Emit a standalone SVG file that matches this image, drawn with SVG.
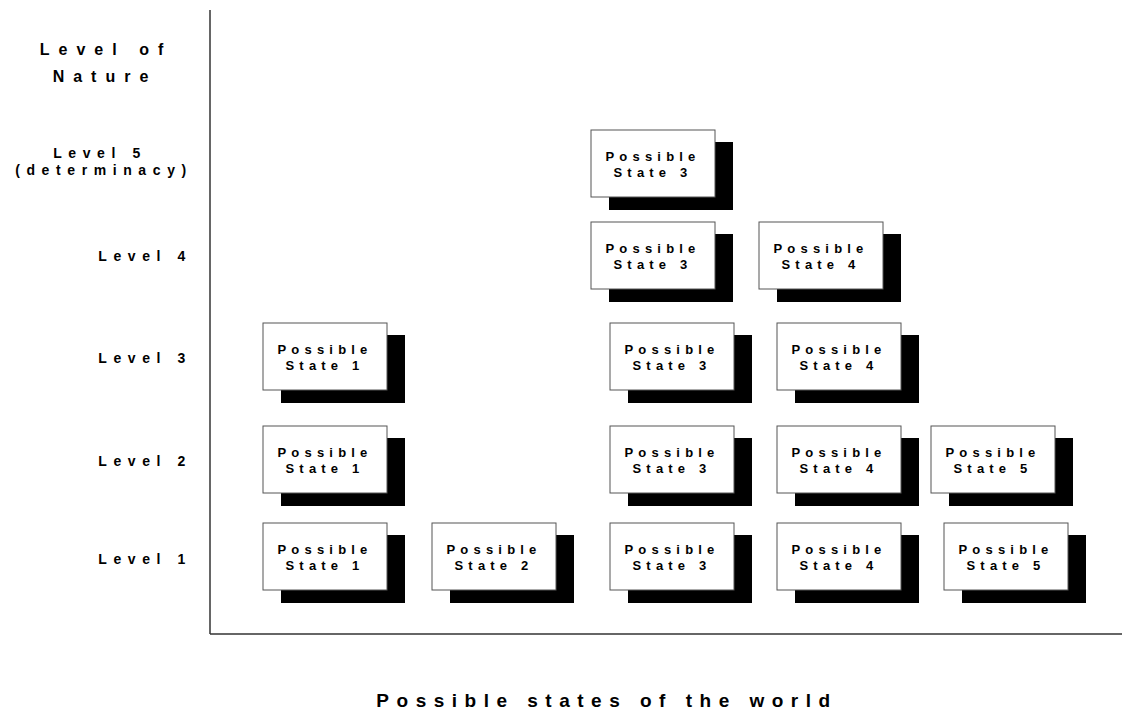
<svg xmlns="http://www.w3.org/2000/svg" width="1122" height="710" viewBox="0 0 1122 710">
<style>
.shadow{fill:#000}
.box{fill:#fff;stroke:#555;stroke-width:1}
.bt{font-family:"Liberation Sans",Arial,sans-serif;font-weight:bold;font-size:13px;letter-spacing:5.2px;text-anchor:middle;fill:#000}
.lab{font-family:"Liberation Sans",Arial,sans-serif;font-weight:bold;font-size:14px;letter-spacing:6.6px;fill:#000}
.big{font-family:"Liberation Sans",Arial,sans-serif;font-weight:bold;font-size:16px;letter-spacing:9px;text-anchor:middle;fill:#000}
.title{font-family:"Liberation Sans",Arial,sans-serif;font-weight:bold;font-size:19px;letter-spacing:7.5px;text-anchor:middle;fill:#000}
.axis{stroke:#333;stroke-width:1.5;fill:none}
</style>
<defs>
<g id="node">
<rect class="shadow" x="18" y="12" width="124" height="68"/>
<rect class="box" x="0" y="0" width="124" height="67"/>
<text class="bt" x="62" y="31">Possible</text>
</g>
</defs>
<g id="axes">
<line class="axis" x1="210" y1="10" x2="210" y2="634"/>
<line class="axis" x1="210" y1="634" x2="1122" y2="634"/>
</g>
<g id="labels">
<text class="big" x="106" y="55">Level of</text>
<text class="big" x="105" y="82">Nature</text>
<text class="lab" x="100" y="158" text-anchor="middle" letter-spacing="7.4">Level 5</text>
<text class="lab" x="104" y="175" text-anchor="middle" letter-spacing="6.9">(determinacy)</text>
<text class="lab" x="192" y="261" text-anchor="end">Level 4</text>
<text class="lab" x="192" y="363" text-anchor="end">Level 3</text>
<text class="lab" x="192" y="466" text-anchor="end">Level 2</text>
<text class="lab" x="192" y="564" text-anchor="end">Level 1</text>
<text class="title" x="607" y="707">Possible states of the world</text>
</g>
<g id="connectors"/>
<g id="l5s3" transform="translate(591,130)"><use href="#node"/><text class="bt" x="62" y="47">State 3</text></g>
<g id="l4s3" transform="translate(591,222)"><use href="#node"/><text class="bt" x="62" y="47">State 3</text></g>
<g id="l4s4" transform="translate(759,222)"><use href="#node"/><text class="bt" x="62" y="47">State 4</text></g>
<g id="l3s1" transform="translate(263,323)"><use href="#node"/><text class="bt" x="62" y="47">State 1</text></g>
<g id="l3s3" transform="translate(610,323)"><use href="#node"/><text class="bt" x="62" y="47">State 3</text></g>
<g id="l3s4" transform="translate(777,323)"><use href="#node"/><text class="bt" x="62" y="47">State 4</text></g>
<g id="l2s1" transform="translate(263,426)"><use href="#node"/><text class="bt" x="62" y="47">State 1</text></g>
<g id="l2s3" transform="translate(610,426)"><use href="#node"/><text class="bt" x="62" y="47">State 3</text></g>
<g id="l2s4" transform="translate(777,426)"><use href="#node"/><text class="bt" x="62" y="47">State 4</text></g>
<g id="l2s5" transform="translate(931,426)"><use href="#node"/><text class="bt" x="62" y="47">State 5</text></g>
<g id="l1s1" transform="translate(263,523)"><use href="#node"/><text class="bt" x="62" y="47">State 1</text></g>
<g id="l1s2" transform="translate(432,523)"><use href="#node"/><text class="bt" x="62" y="47">State 2</text></g>
<g id="l1s3" transform="translate(610,523)"><use href="#node"/><text class="bt" x="62" y="47">State 3</text></g>
<g id="l1s4" transform="translate(777,523)"><use href="#node"/><text class="bt" x="62" y="47">State 4</text></g>
<g id="l1s5" transform="translate(944,523)"><use href="#node"/><text class="bt" x="62" y="47">State 5</text></g>
</svg>
